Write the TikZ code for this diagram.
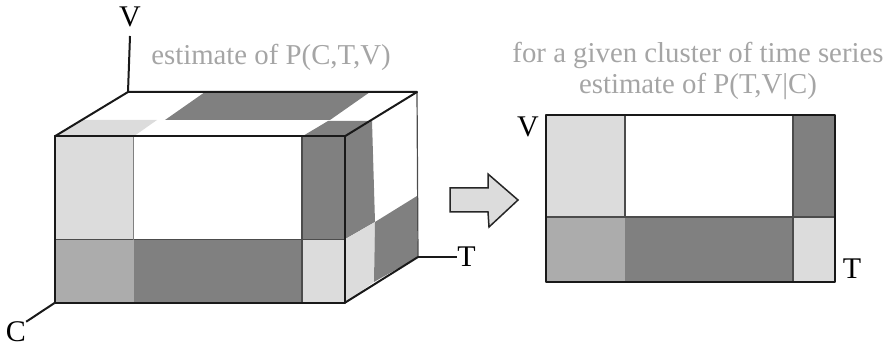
\documentclass[tikz,border=0pt]{standalone}
\usepackage{fontspec}
\setmainfont{Liberation Serif}
\definecolor{celldark}{RGB}{128,128,128}
\definecolor{cellmid}{RGB}{172,172,172}
\definecolor{celllight}{RGB}{220,220,220}
\definecolor{captiongray}{RGB}{165,165,165}
\usetikzlibrary{arrows.meta,positioning,calc}

\begin{document}
\begin{tikzpicture}[x=1pt, y=-1pt,
  edgeline/.style={draw=black!90, line width=2pt, line join=round},
  gridline/.style={draw=black!70, line width=1.2pt},
  axislabel/.style={font=\fontsize{30}{32}\selectfont, inner sep=0pt},
  caption/.style={font=\fontsize{28.8}{31}\selectfont, text=captiongray, inner sep=0pt, align=center}]

\useasboundingbox (0,0) rectangle (890,347);

% cube corners
\coordinate (fbl) at (54.5,303);
\coordinate (fbr) at (344.5,303);
\coordinate (ftl) at (54.5,136.5);
\coordinate (ftr) at (344.5,136.5);
\coordinate (btl) at (128,92);
\coordinate (btr) at (417,92);
\coordinate (bbr) at (418,257);

% front face
\fill[celllight] (ftl) rectangle (133.5,239.5);
\fill[celldark] (302,136.5) rectangle (344.5,239.5);
\fill[cellmid] (54.5,239.5) rectangle (133.5,303);
\fill[celldark] (133.5,239.5) rectangle (302,303);
\fill[celllight] (302,239.5) rectangle (344.5,303);

% top face
\fill[celllight] (ftl) -- (133.5,136.5) -- (157,120) -- (80,120) -- cycle;
\fill[celldark] (165,120) -- (205,92) -- (370,92) -- (330,120) -- cycle;
\fill[celldark] (302,136.5) -- (ftr) -- (372,121) -- (328,121) -- cycle;

% right face
\fill[celldark] (ftr) -- (372,121) -- (375,222) -- (344.5,239.5) -- cycle;
\fill[celllight] (344.5,239.5) -- (375,222) -- (374,282) -- (fbr) -- cycle;
\fill[celldark] (375,222) -- (417,196) -- (bbr) -- (374,282) -- cycle;

% cube cell lines
\draw[gridline] (54.5,239.5) -- (344.5,239.5);
\draw[gridline, draw=black!50] (133.5,136.5) -- (133.5,239.5);
\draw[gridline] (302,136.5) -- (302,303);
\draw[gridline] (417,92) -- (bbr);

% cube outline
\draw[edgeline] (ftl) rectangle (fbr);
\draw[edgeline] (ftl) -- (btl) -- (btr) -- (ftr);
\draw[edgeline] (fbr) -- (bbr);

% axes
\node[axislabel] (axisV) at (130,17) {V};
\node[axislabel] (axisC) at (16,332) {C};
\node[axislabel] (axisT) at (466.5,257) {T};
\coordinate (axisVend) at (130,36);
\draw[edgeline] (btl) -- (axisVend);
\draw[edgeline] (fbl) -- (axisC.north east);
\draw[edgeline] (bbr) -- (axisT.west);

\node[caption] (capjoint) at (271,57) {estimate of P(C,T,V)};

% block arrow
\draw[gridline, draw=black!85, line width=1.5pt, fill=celllight, line join=miter]
  (450,188) -- (488,188) -- (488,174) -- (518,200) -- (489,227) -- (488,212) -- (450,212) -- cycle;

% slice
\fill[celllight] (546,115) rectangle (625,217);
\fill[celldark] (793,115) rectangle (835,217);
\fill[cellmid] (546,217) rectangle (625,281.5);
\fill[celldark] (625,217) rectangle (793,281.5);
\fill[celllight] (793,217) rectangle (835,281.5);
\draw[gridline] (546,217) -- (835,217);
\draw[gridline] (625,115) -- (625,217);
\draw[gridline] (793,115) -- (793,281.5);
\draw[edgeline] (546,115) rectangle (835,281.5);

\node[axislabel] (sliceV) at (528,127) {V};
\node[axislabel] (sliceT) at (852,269) {T};

\node[caption] (capslice) at (698,70.5) {for a given cluster of time series\\estimate of P(T,V|C)};

\end{tikzpicture}
\end{document}
